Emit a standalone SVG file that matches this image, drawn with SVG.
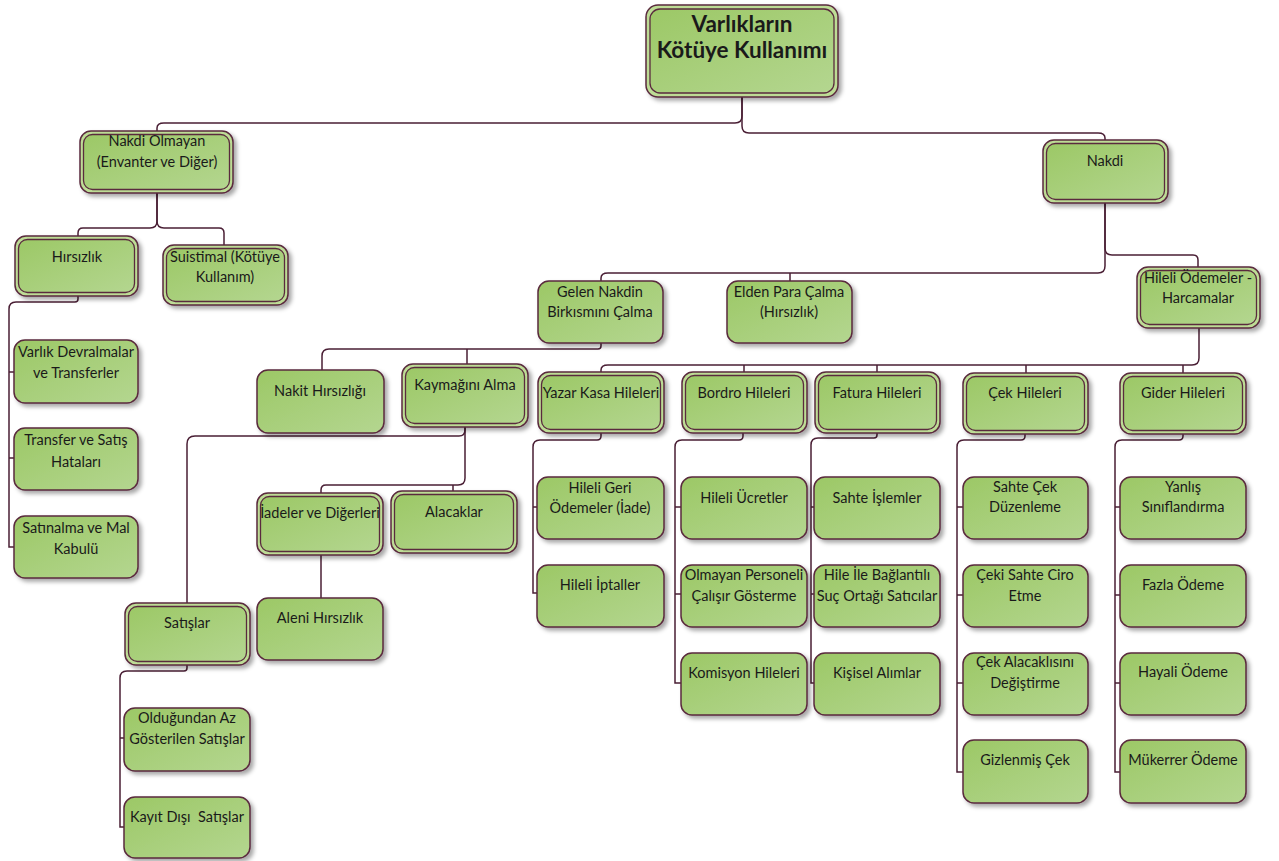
<svg xmlns="http://www.w3.org/2000/svg" width="1279" height="861" viewBox="0 0 1279 861">
<defs>
<linearGradient id="gf" x1="0" y1="0" x2="1" y2="1">
<stop offset="0" stop-color="#9cc866"/>
<stop offset="1" stop-color="#b4d690"/>
</linearGradient>
<filter id="sh" x="-10%" y="-10%" width="130%" height="140%">
<feDropShadow dx="3" dy="3" stdDeviation="2" flood-color="#000" flood-opacity="0.35"/>
</filter>
<style>
.o{fill:#bddc95;stroke:#5a2a3e;stroke-width:1.5;filter:url(#sh)}
.i{fill:url(#gf);stroke:#5a2a3e;stroke-width:1.3}
.s{fill:url(#gf);stroke:#5a2a3e;stroke-width:1.5;filter:url(#sh)}
text{font-family:Lato,"Open Sans","Liberation Sans",sans-serif;font-size:14.5px;fill:#1a1a1a;text-anchor:middle}
.b{font-size:22.5px;font-weight:bold}
#conn path{fill:none;stroke:#4a1f35;stroke-width:1.5}
</style>
</defs>
<rect width="1279" height="861" fill="#fff"/>
<g id="conn">
<path d="M742 97V116Q742 123 735 123H164Q157 123 157 128V131"/>
<path d="M742 97V126Q742 133 749 133H1098Q1105 133 1105 138V140"/>
<path d="M157 193V221Q157 228 150 228H83Q78 228 78 233V236"/>
<path d="M157 193V221Q157 228 164 228H219Q224 228 224 233V245"/>
<path d="M78 296V299Q78 302 75 302H16Q9 302 9 309V547H14M9 372H14M9 458H14"/>
<path d="M1105 203V266Q1105 273 1098 273H608Q601 273 601 278V281M790 273V281"/>
<path d="M1105 203V248Q1105 255 1112 255H1193Q1198 255 1198 260V267"/>
<path d="M601 343V346Q601 349 598 349H329Q322 349 322 356V370M467 349V364"/>
<path d="M1199 328V358Q1199 365 1192 365H608Q601 365 601 370V372M744 365V372M877 365V372M1026 365V373M1183 365V373"/>
<path d="M465 427V430Q465 436 459 436H195Q187 436 187 444V603"/>
<path d="M465 427V478Q465 485 458 485H326Q321 485 321 490V493M453 485V491"/>
<path d="M321 555V598"/>
<path d="M187 665V668Q187 671 184 671H127Q120 671 120 678V827H124M120 738H124"/>
<path d="M601 433V436Q601 440 597 440H540Q533 440 533 447V593H537M533 507H537"/>
<path d="M743 433V436Q743 440 739 440H682Q675 440 675 447V683H681M675 507H681M675 594H681"/>
<path d="M877 433V435Q877 438 874 438H818Q811 438 811 445V683H814M811 507H814M811 594H814"/>
<path d="M1025 434V436Q1025 440 1021 440H964Q957 440 957 447V772H963M957 507H963M957 595H963M957 683H963"/>
<path d="M1183 434V436Q1183 440 1179 440H1122Q1115 440 1115 447V772H1120M1115 507H1120M1115 595H1120M1115 683H1120"/>
</g>

<g id="n-root"><rect class="o" x="646" y="5" width="192" height="92" rx="12"/><rect class="i" x="650" y="9" width="184" height="84" rx="10"/><text class="b" x="742" y="32">Varlıkların</text><text class="b" x="742" y="58">Kötüye Kullanımı</text></g>

<g id="n-nakdiolmayan"><rect class="o" x="80" y="131" width="153" height="62" rx="11"/><rect class="i" x="83.5" y="134.5" width="146" height="55" rx="9"/><text x="157" y="146">Nakdi Olmayan</text><text x="157" y="167">(Envanter ve Diğer)</text></g>
<g id="n-nakdi"><rect class="o" x="1043" y="140" width="125" height="63" rx="11"/><rect class="i" x="1046.5" y="143.5" width="118" height="56" rx="9"/><text x="1105" y="166">Nakdi</text></g>

<g id="n-hirsizlik"><rect class="o" x="15" y="236" width="123" height="60" rx="11"/><rect class="i" x="18.5" y="239.5" width="116" height="53" rx="9"/><text x="77" y="262">Hırsızlık</text></g>
<g id="n-suistimal"><rect class="o" x="163" y="245" width="125" height="60" rx="11"/><rect class="i" x="166.5" y="248.5" width="118" height="53" rx="9"/><text x="225" y="262">Suistimal (Kötüye</text><text x="225" y="282">Kullanım)</text></g>

<g id="n-varlikdevr"><rect class="s" x="14" y="340" width="124" height="63" rx="11"/><text x="76" y="357">Varlık Devralmalar</text><text x="76" y="378">ve Transferler</text></g>
<g id="n-transfer"><rect class="s" x="14" y="428" width="124" height="62" rx="11"/><text x="76" y="445">Transfer ve Satış</text><text x="76" y="467">Hataları</text></g>
<g id="n-satinalma"><rect class="s" x="14" y="516" width="124" height="62" rx="11"/><text x="76" y="533">Satınalma ve Mal</text><text x="76" y="554">Kabulü</text></g>

<g id="n-gelen"><rect class="s" x="538" y="281" width="125" height="62" rx="11"/><text x="600" y="297">Gelen Nakdin</text><text x="600" y="317">Birkısmını Çalma</text></g>
<g id="n-elden"><rect class="s" x="727" y="281" width="125" height="62" rx="11"/><text x="789" y="297">Elden Para Çalma</text><text x="789" y="317">(Hırsızlık)</text></g>
<g id="n-hileliodemeler"><rect class="o" x="1137" y="267" width="123" height="61" rx="11"/><rect class="i" x="1140.5" y="270.5" width="116" height="54" rx="9"/><text x="1198" y="283">Hileli Ödemeler -</text><text x="1198" y="303">Harcamalar</text></g>

<g id="n-nakit"><rect class="s" x="257" y="370" width="127" height="63" rx="11"/><text x="320" y="396">Nakit Hırsızlığı</text></g>
<g id="n-kaymak"><rect class="o" x="402" y="364" width="126" height="63" rx="11"/><rect class="i" x="405.5" y="367.5" width="119" height="56" rx="9"/><text x="465" y="390">Kaymağını Alma</text></g>

<g id="n-yazarkasa"><rect class="o" x="538" y="372" width="126" height="61" rx="11"/><rect class="i" x="541.5" y="375.5" width="119" height="54" rx="9"/><text x="601" y="398">Yazar Kasa Hileleri</text></g>
<g id="n-bordro"><rect class="o" x="682" y="372" width="125" height="61" rx="11"/><rect class="i" x="685.5" y="375.5" width="118" height="54" rx="9"/><text x="744" y="398">Bordro Hileleri</text></g>
<g id="n-fatura"><rect class="o" x="815" y="372" width="125" height="61" rx="11"/><rect class="i" x="818.5" y="375.5" width="118" height="54" rx="9"/><text x="877" y="398">Fatura Hileleri</text></g>
<g id="n-cek"><rect class="o" x="963" y="373" width="125" height="61" rx="11"/><rect class="i" x="966.5" y="376.5" width="118" height="54" rx="9"/><text x="1025" y="398">Çek Hileleri</text></g>
<g id="n-gider"><rect class="o" x="1120" y="373" width="126" height="61" rx="11"/><rect class="i" x="1123.5" y="376.5" width="119" height="54" rx="9"/><text x="1183" y="398">Gider Hileleri</text></g>

<g id="n-iadeler"><rect class="o" x="257" y="493" width="126" height="62" rx="11"/><rect class="i" x="260.5" y="496.5" width="119" height="55" rx="9"/><text x="320" y="518">İadeler ve Diğerleri</text></g>
<g id="n-alacaklar"><rect class="o" x="391" y="491" width="126" height="62" rx="11"/><rect class="i" x="394.5" y="494.5" width="119" height="55" rx="9"/><text x="454" y="517">Alacaklar</text></g>
<g id="n-aleni"><rect class="s" x="257" y="598" width="126" height="62" rx="11"/><text x="320" y="623">Aleni Hırsızlık</text></g>
<g id="n-satislar"><rect class="o" x="125" y="603" width="125" height="62" rx="11"/><rect class="i" x="128.5" y="606.5" width="118" height="55" rx="9"/><text x="187" y="628">Satışlar</text></g>
<g id="n-oldugundan"><rect class="s" x="124" y="708" width="126" height="63" rx="11"/><text x="187" y="723">Olduğundan Az</text><text x="187" y="744">Gösterilen Satışlar</text></g>
<g id="n-kayitdisi"><rect class="s" x="124" y="797" width="126" height="61" rx="11"/><text x="187" y="822" xml:space="preserve">Kayıt Dışı  Satışlar</text></g>

<g id="n-hileligeri"><rect class="s" x="537" y="477" width="127" height="62" rx="11"/><text x="600" y="493">Hileli Geri</text><text x="600" y="513">Ödemeler (İade)</text></g>
<g id="n-hileliiptal"><rect class="s" x="537" y="565" width="127" height="62" rx="11"/><text x="600" y="590">Hileli İptaller</text></g>

<g id="n-hileliucret"><rect class="s" x="681" y="477" width="126" height="62" rx="11"/><text x="744" y="503">Hileli Ücretler</text></g>
<g id="n-olmayanpers"><rect class="s" x="681" y="565" width="126" height="62" rx="11"/><text x="744" y="580">Olmayan Personeli</text><text x="744" y="601">Çalışır Gösterme</text></g>
<g id="n-komisyon"><rect class="s" x="681" y="653" width="126" height="62" rx="11"/><text x="744" y="678">Komisyon Hileleri</text></g>

<g id="n-sahteislem"><rect class="s" x="814" y="477" width="126" height="62" rx="11"/><text x="877" y="503">Sahte İşlemler</text></g>
<g id="n-hileile"><rect class="s" x="814" y="565" width="126" height="62" rx="11"/><text x="877" y="580">Hile İle Bağlantılı</text><text x="877" y="601">Suç Ortağı Satıcılar</text></g>
<g id="n-kisisel"><rect class="s" x="814" y="653" width="126" height="62" rx="11"/><text x="877" y="678">Kişisel Alımlar</text></g>

<g id="n-sahtecek"><rect class="s" x="963" y="477" width="125" height="62" rx="11"/><text x="1025" y="492">Sahte Çek</text><text x="1025" y="512">Düzenleme</text></g>
<g id="n-cekisahte"><rect class="s" x="963" y="565" width="125" height="62" rx="11"/><text x="1025" y="580">Çeki Sahte Ciro</text><text x="1025" y="601">Etme</text></g>
<g id="n-cekalacak"><rect class="s" x="963" y="653" width="125" height="62" rx="11"/><text x="1025" y="667">Çek Alacaklısını</text><text x="1025" y="688">Değiştirme</text></g>
<g id="n-gizlenmis"><rect class="s" x="963" y="740" width="125" height="63" rx="11"/><text x="1025" y="765">Gizlenmiş Çek</text></g>

<g id="n-yanlis"><rect class="s" x="1120" y="477" width="126" height="62" rx="11"/><text x="1183" y="492">Yanlış</text><text x="1183" y="512">Sınıflandırma</text></g>
<g id="n-fazla"><rect class="s" x="1120" y="565" width="126" height="62" rx="11"/><text x="1183" y="590">Fazla Ödeme</text></g>
<g id="n-hayali"><rect class="s" x="1120" y="653" width="126" height="62" rx="11"/><text x="1183" y="677">Hayali Ödeme</text></g>
<g id="n-mukerrer"><rect class="s" x="1120" y="740" width="126" height="63" rx="11"/><text x="1183" y="765">Mükerrer Ödeme</text></g>
</svg>
